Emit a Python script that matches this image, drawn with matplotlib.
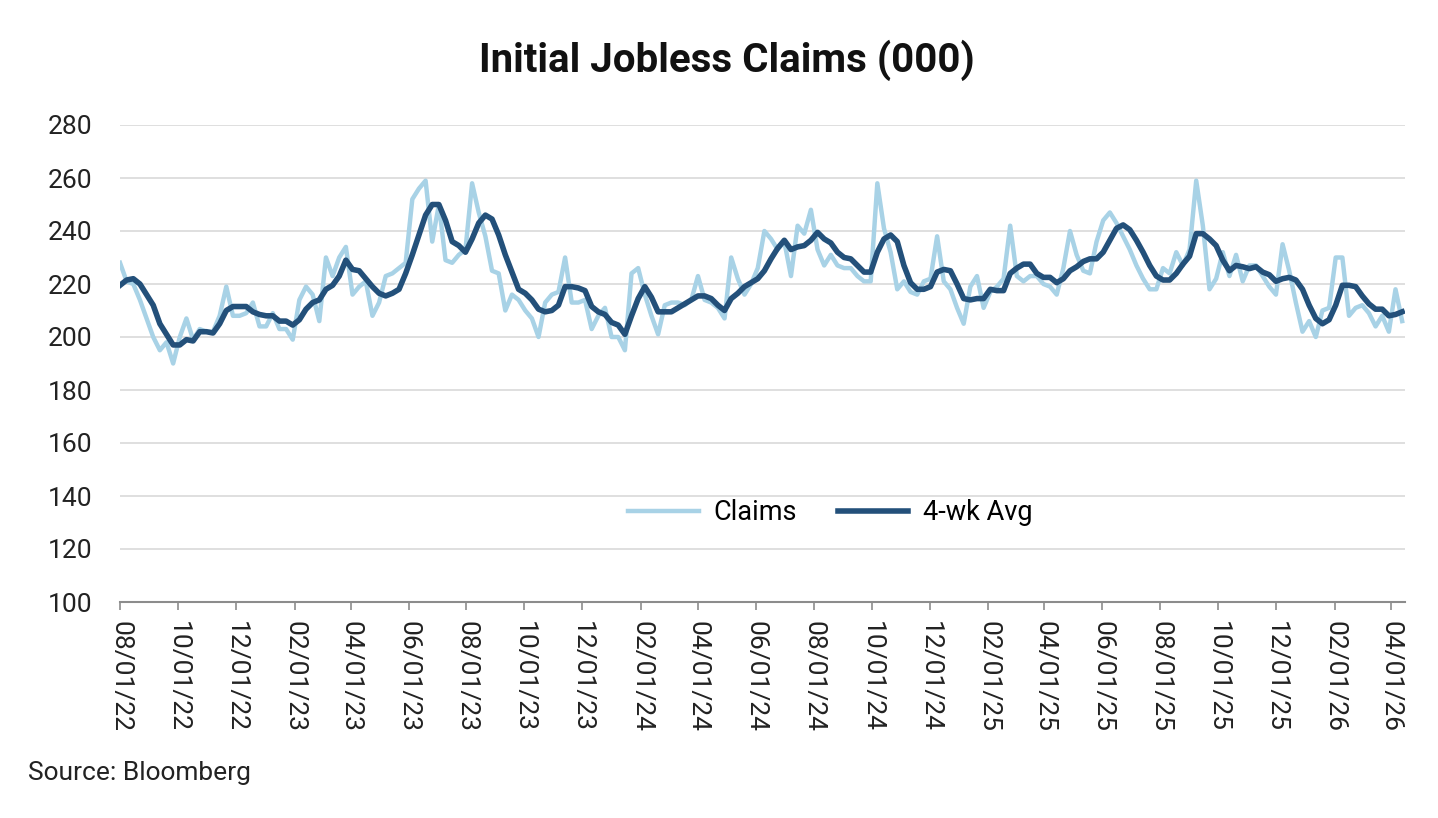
import matplotlib
matplotlib.use("Agg")
import matplotlib.pyplot as plt
import matplotlib.dates as mdates
import pandas as pd

# Weekly initial jobless claims (000)
claims = [228, 221, 220, 214, 207, 200, 195, 198, 190, 200,
          207, 199, 203, 202, 202, 208, 219, 208, 208, 209,
          213, 204, 204, 209, 203, 203, 199, 214, 219, 216,
          206, 230, 223, 230, 234, 216, 219, 221, 208, 213,
          223, 224, 226, 228, 252, 256, 259, 236, 250, 229,
          228, 231, 233, 258, 247, 238, 225, 224, 210, 216,
          214, 210, 207, 200, 213, 216, 217, 230, 213, 213,
          214, 203, 208, 211, 200, 200, 195, 224, 226, 216,
          208, 201, 212, 213, 213, 212, 214, 223, 214, 213,
          211, 207, 230, 222, 216, 220, 226, 240, 237, 233,
          236, 223, 242, 239, 248, 233, 227, 231, 227, 226,
          226, 223, 221, 221, 258, 241, 232, 218, 221, 217,
          216, 221, 222, 238, 221, 218, 211, 205, 219, 223,
          211, 217, 219, 222, 242, 223, 221, 223, 223, 220,
          219, 216, 226, 240, 231, 225, 224, 236, 244, 247,
          243, 238, 233, 227, 222, 218, 218, 226, 224, 232,
          227, 233, 259, 242, 218, 222, 232, 223, 231, 221,
          227, 227, 223, 219, 216, 235, 225, 213, 202, 206,
          200, 210, 211, 230, 230, 208, 211, 212, 209, 204,
          208, 202, 218, 206]

avg_4wk = [219.5, 221.5, 222, 220, 216, 212, 205, 201, 197, 197,
           199, 198.5, 202, 202, 201.5, 205, 210, 211.5, 211.5, 211.5,
           209.5, 208.5, 208, 208, 206, 206, 204.5, 206.5, 210.5, 213,
           214, 218, 219.5, 223, 229, 225.5, 225, 222, 219, 216.5,
           215.5, 216.5, 218, 224, 231, 238.5, 246, 250, 250, 244,
           236, 234.5, 232, 237, 243, 246, 244.5, 238.5, 231, 224.5,
           218, 216.5, 214, 210.5, 209.5, 210, 212, 219, 219, 218.5,
           217.5, 211.5, 209.5, 208.5, 205.5, 204.5, 201, 208, 214.5, 219,
           215, 209.5, 209.5, 209.5, 211, 212.5, 214, 215.5, 215.5, 214.5,
           212, 210, 214.5, 216.5, 219, 220.5, 222, 225, 229.5, 233.5,
           236.5, 233, 234, 234.5, 236.5, 239.5, 237, 235.5, 232, 230,
           229.5, 227, 224.5, 224.5, 232, 237, 238.5, 236, 227, 220.5,
           218, 218, 219, 224.5, 225.5, 225, 220, 214.5, 214, 214.5,
           214.5, 218, 217.5, 217.5, 224, 226, 227.5, 227.5, 224, 222.5,
           222.5, 220.5, 222, 225, 226.5, 228.5, 229.5, 229.5, 232, 236.5,
           241, 242.3, 240.5, 236.5, 232, 227, 223, 221.5, 221.5, 224,
           227.5, 230.5, 239, 239, 237, 234.5, 229, 225, 227, 226.5,
           225.8, 226.5, 224.5, 223.5, 221, 222, 222.5, 221.5, 218, 212,
           207, 205, 206.5, 212, 219.5, 219.5, 219, 215.5, 212.5, 210.5,
           210.5, 208, 208.5, 209.5]

first_week = "2022-08-01"
dates = pd.date_range(first_week, periods=len(claims), freq="7D")

series_names = ["Claims", "4-wk Avg"]
title = "Initial Jobless Claims (000)"
source = "Source: Bloomberg"

light = "#A8D2E6"
dark = "#23507A"

plt.rcParams['font.family'] = ['Roboto', 'DejaVu Sans']

W, H = 1438, 818
fig = plt.figure(figsize=(W / 100, H / 100), dpi=100)
ax = fig.add_axes([120 / W, 1 - 602 / H, (1405 - 120) / W, (602 - 125) / H])

ax.plot(dates, claims, color=light, lw=3.2, label=series_names[0],
        solid_joinstyle='round', zorder=3)
ax.plot(dates, avg_4wk, color=dark, lw=4.0, label=series_names[1],
        solid_joinstyle='round', zorder=4)

ax.set_ylim(100, 280)
ax.set_yticks(range(100, 281, 20))
ax.set_xlim(pd.Timestamp("2022-08-01"), pd.Timestamp("2026-04-16"))
ax.xaxis.set_major_locator(mdates.MonthLocator(bymonth=[2, 4, 6, 8, 10, 12], bymonthday=1))
ax.xaxis.set_major_formatter(mdates.DateFormatter("%m/%d/%y"))

ax.yaxis.grid(True, color="#D9D9D9", lw=1.2)
ax.set_axisbelow(True)
for s in ["left", "top", "right"]:
    ax.spines[s].set_visible(False)
ax.spines["bottom"].set_color("#8C8C8C")
ax.spines["bottom"].set_linewidth(1.5)

ax.tick_params(axis="y", length=0, pad=20, labelsize=19, labelcolor="#222222")
ax.tick_params(axis="x", length=6, width=1.2, color="#8C8C8C", pad=8,
               labelsize=19, labelcolor="#222222")
for lab in ax.get_xticklabels():
    lab.set_rotation(270)
    lab.set_ha("center")
    lab.set_va("top")

ax.legend(loc="center", bbox_to_anchor=(0.553, 0.187), ncol=2, frameon=False,
          fontsize=19.5, handlelength=2.6, handletextpad=0.55, columnspacing=1.5)

fig.text(727 / W, 1 - 60 / H, title, ha="center", va="center",
         fontsize=29, fontweight="bold", color="#111111")
fig.text(28 / W, 1 - 773 / H, source, ha="left", va="center",
         fontsize=19, color="#222222")

fig.savefig("out.png", dpi=100, facecolor="white")
